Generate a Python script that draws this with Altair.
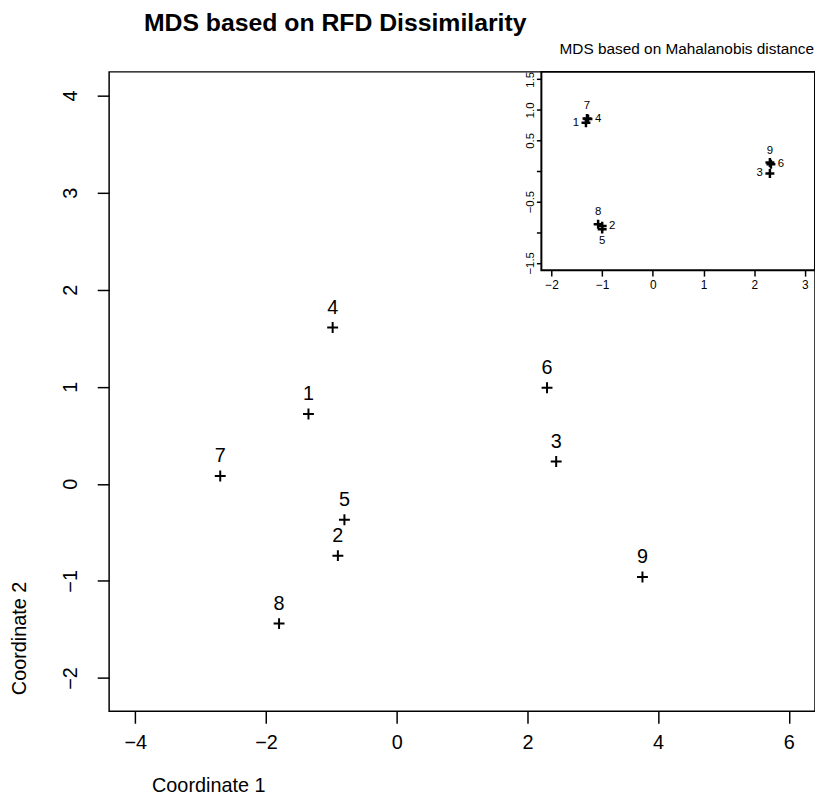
import altair as alt
import pandas as pd

FONT = "Liberation Sans"

# ---- main MDS (RFD dissimilarity) ----
ids = ["1", "2", "3", "4", "5", "6", "7", "8", "9"]
rfd_x = [-1.35, -0.90, 2.44, -0.98, -0.80, 2.30, -2.70, -1.80, 3.76]
rfd_y = [0.72, -0.74, 0.23, 1.61, -0.37, 0.99, 0.08, -1.44, -0.96]

# ---- inset MDS (Mahalanobis distance) ----
mah_x = [-1.32, -1.00, 2.31, -1.28, -1.00, 2.33, -1.30, -1.08, 2.31]
mah_y = [0.79, -0.90, -0.04, 0.85, -0.95, 0.11, 0.86, -0.87, 0.14]
mah_pos = ["left", "right", "left", "right", "below", "right", "above", "above", "above"]

main_title = "MDS based on RFD Dissimilarity"
inset_title = "MDS based on Mahalanobis distance"
x_title = "Coordinate 1"
y_title = "Coordinate 2"

main_x_ticks = [-4, -2, 0, 2, 4, 6]
main_y_ticks = [-2, -1, 0, 1, 2, 3, 4]
main_x_dom = [-4.4, 6.4]
main_y_dom = [-2.344, 4.244]

inset_x_ticks = [-2, -1, 0, 1, 2, 3]
inset_y_ticks = [-1.5, -1.0, -0.5, 0.0, 0.5, 1.0, 1.5]
inset_x_dom = [-2.2, 3.2]
inset_y_dom = [-1.62, 1.62]

W, H = 712, 645
INSET_LEFT = 436      # inset frame left edge (pixels from plot left)
INSET_BOTTOM = 200    # inset frame bottom (pixels from plot top)

df_main = pd.DataFrame({"id": ids, "x": rfd_x, "y": rfd_y})
df_mah = pd.DataFrame({"id": ids, "x": mah_x, "y": mah_y, "pos": mah_pos})
df_frame = pd.DataFrame({"x0": [inset_x_dom[0]], "x1": [inset_x_dom[1]],
                         "y0": [inset_y_dom[0]], "y1": [inset_y_dom[1]]})

PLUS = "M-1,0L1,0M0,-1L0,1"
MINUS = "replace(format(datum.value, '{fmt}'), '-', '\u2212')"

# ---------- main layer ----------
mx = alt.X("x:Q", scale=alt.Scale(domain=main_x_dom, nice=False, zero=False),
           axis=alt.Axis(values=main_x_ticks, domain=False, grid=False, tickSize=12,
                         tickWidth=1.5, tickColor="black", labelFontSize=20,
                         labelFont=FONT, labelColor="black", labelPadding=20,
                         labelBaseline="middle",
                         labelExpr=MINUS.format(fmt="d"),
                         title=x_title, titleFont=FONT, titleFontSize=20,
                         titleFontWeight="normal", titleColor="black",
                         titleX=100, titleY=75, titleAlign="center",
                         titleBaseline="middle", orient="bottom"))
my = alt.Y("y:Q", scale=alt.Scale(domain=main_y_dom, nice=False, zero=False),
           axis=alt.Axis(values=main_y_ticks, domain=False, grid=False, tickSize=12,
                         tickWidth=1.5, tickColor="black", labelFontSize=20,
                         labelFont=FONT, labelColor="black", labelPadding=27,
                         labelAngle=270, labelAlign="center", labelBaseline="middle",
                         labelExpr=MINUS.format(fmt="d"),
                         title=y_title, titleFont=FONT, titleFontSize=20,
                         titleFontWeight="normal", titleColor="black",
                         titleAngle=270, titleX=-90, titleY=571, titleAlign="center",
                         titleBaseline="middle", orient="left"))

main_base = alt.Chart(df_main)
main_pts = main_base.mark_point(shape=PLUS, size=121, strokeWidth=2, filled=False,
                                color="black", opacity=1).encode(x=mx, y=my)
main_lbl = main_base.mark_text(dy=-20, fontSize=20, font=FONT, color="black").encode(
    x="x:Q", y="y:Q", text="id:N")
main_layer = alt.layer(main_pts, main_lbl)

# ---------- inset layer ----------
ix_scale = alt.Scale(domain=inset_x_dom, range=[INSET_LEFT, W], nice=False, zero=False)
iy_scale = alt.Scale(domain=inset_y_dom, range=[INSET_BOTTOM, 0], nice=False, zero=False)

ix_axis = alt.Axis(values=inset_x_ticks, domain=False, grid=False, tickSize=6,
                   tickWidth=1.5, tickColor="black", labelFontSize=12, labelFont=FONT,
                   labelColor="black", labelPadding=9, labelBaseline="middle",
                   labelExpr=MINUS.format(fmt="d"), title=None, orient="bottom",
                   offset=INSET_BOTTOM - H, labelFlush=False, labelOverlap=False)
iy_axis = alt.Axis(values=inset_y_ticks, domain=False, grid=False, tickSize=5,
                   tickWidth=1.5, tickColor="black", labelFontSize=11.5, labelFont=FONT,
                   labelColor="black", labelPadding=6, labelAngle=270,
                   labelAlign="center", labelBaseline="middle",
                   labelExpr="datum.value == 0 || datum.value == -1 ? '' : "
                             + MINUS.format(fmt=".1f"),
                   title=None, orient="left", offset=-INSET_LEFT,
                   labelFlush=False, labelOverlap=False)

frame = alt.Chart(df_frame).mark_rect(fill="white", stroke="black", strokeWidth=2).encode(
    x=alt.X("x0:Q", scale=ix_scale, axis=ix_axis),
    x2="x1:Q",
    y=alt.Y("y0:Q", scale=iy_scale, axis=iy_axis),
    y2="y1:Q")

inset_base = alt.Chart(df_mah)
inset_pts = inset_base.mark_point(shape=PLUS, size=81, strokeWidth=2.5, filled=False,
                                  color="black", opacity=1).encode(x="x:Q", y="y:Q")

def inset_labels(pos, **kw):
    return inset_base.transform_filter(alt.datum.pos == pos).mark_text(
        fontSize=11.5, font=FONT, color="black", baseline="middle", **kw).encode(
        x="x:Q", y="y:Q", text="id:N")

inset_layer = alt.layer(
    frame, inset_pts,
    inset_labels("above", dy=-12, align="center"),
    inset_labels("below", dy=12, align="center"),
    inset_labels("left", dx=-7, align="right"),
    inset_labels("right", dx=7, align="left"),
)

# ---------- titles ----------
t_main = alt.Chart(pd.DataFrame({"t": [main_title]})).mark_text(
    font=FONT, fontSize=25, fontWeight="bold", align="center", baseline="middle",
    color="black").encode(text="t:N", x=alt.value(228), y=alt.value(-49))
t_inset = alt.Chart(pd.DataFrame({"t": [inset_title]})).mark_text(
    font=FONT, fontSize=15.5, align="right", baseline="middle",
    color="black").encode(text="t:N", x=alt.value(711), y=alt.value(-23))

chart = alt.layer(main_layer, inset_layer, t_main, t_inset).resolve_scale(
    x="independent", y="independent"
).properties(
    width=W, height=H,
    autosize=alt.AutoSizeParams(type="none"),
    padding={"left": 102, "top": 61, "right": 0, "bottom": 85},
    background="white",
).configure_view(stroke="black", strokeWidth=1.5)

chart.save("out.html", embed_options={"renderer": "svg", "actions": False})
